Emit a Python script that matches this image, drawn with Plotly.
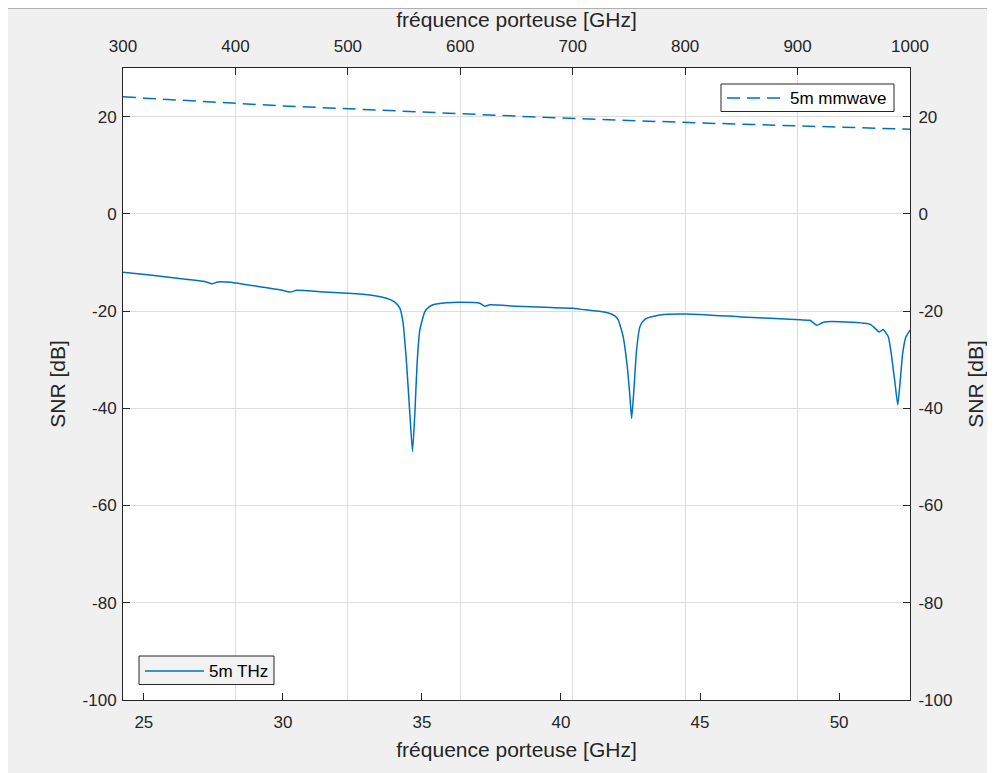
import plotly.graph_objects as go

# ---- data ----
thz_freq = [300, 324, 350, 372.6, 379, 384.4, 400, 425, 439.4, 449, 454.6, 475, 500,
            519.5, 530, 537.3, 542, 546.2, 549.1, 552.2, 555.1, 557.5, 559.6, 561.6, 564.0, 568.5,
            572, 575.8, 587.8, 599.6, 617.4, 621.9, 626.3, 650, 675, 700.1, 706.4, 725, 733.1,
            737.5, 740.5, 744.9, 748.5, 750.9, 752.4, 754.4, 756.8, 759.8, 762.5, 765.7, 777.6, 801.3,
            850, 902.1, 911, 917, 922, 925.9, 937.7, 964.4, 967.3, 972.7, 976.2, 980.7,
            983.7, 986.7, 989.1, 991.1, 993.5, 996.4, 1000]
thz_snr = [-12.0, -12.6, -13.3, -13.9, -14.4, -14.0, -14.2, -15.1, -15.6, -16.1, -15.7, -16.0, -16.35,
           -16.7, -17.1, -17.6, -18.2, -19.4, -22.4, -30.7, -41.0, -48.9, -41.0, -30.7, -23.9, -20.1,
           -19.2, -18.7, -18.3, -18.2, -18.4, -19.0, -18.7, -19.0, -19.2, -19.4, -19.6, -20.1, -20.5,
           -21.0, -21.8, -25.3, -31.4, -37.6, -42.1, -36.2, -28.0, -23.2, -22.1, -21.5, -20.8, -20.6,
           -21.2, -21.8, -21.9, -22.9, -22.4, -22.2, -22.2, -22.7, -23.2, -24.3, -23.8, -25.3,
           -29.4, -34.9, -39.3, -34.9, -28.7, -25.3, -23.9]

mm_freq = [24.25, 25, 30, 35, 40, 45, 50, 52.55]
mm_snr = [24.1, 23.8, 22.2, 20.9, 19.7, 18.7, 17.8, 17.4]

bottom_ticks = [25, 30, 35, 40, 45, 50]
top_ticks = [300, 400, 500, 600, 700, 800, 900, 1000]
y_ticks = [-100, -80, -60, -40, -20, 0, 20]
y_tick_labels = ["-100", "-80", "-60", "-40", "-20", "0", "20"]

x_label = "fréquence porteuse [GHz]"
y_label = "SNR [dB]"
thz_name = "5m THz"
mm_name = "5m mmwave"

# ---- style ----
BLUE = "#0072BD"
DARK = "#262626"
GRID = "#dedede"
FONT = "Liberation Sans, Arial, sans-serif"
OFF = 8  # page body margin of the browser
W, H = 995 - OFF, 773 - OFF
# plot area in reference pixels: x 123..910, y 68..700
L, R, T, B = 123 - OFF, 995 - 910, 68 - OFF, 773 - 700
PW, PH = W - L - R, H - T - B


def px(x):
    return (x - OFF - L) / PW


def py(y):
    return (H - B - (y - OFF)) / PH


fig = go.Figure()
fig.add_trace(go.Scatter(x=mm_freq, y=mm_snr, mode="lines", name=mm_name,
                         xaxis="x", yaxis="y", line=dict(color=BLUE, width=1.5, dash="13px,7px"),
                         showlegend=False))
fig.add_trace(go.Scatter(x=thz_freq, y=thz_snr, mode="lines", name=thz_name,
                         xaxis="x2", yaxis="y2",
                         line=dict(color=BLUE, width=1.5, shape="spline", smoothing=0.5),
                         showlegend=False))

axis_common = dict(showline=True, linecolor=DARK, linewidth=1, ticks="inside", ticklen=7,
                   tickcolor=DARK, tickwidth=1, tickfont=dict(family=FONT, size=17, color=DARK),
                   zeroline=False, automargin=False)
title_font = dict(family=FONT, size=21, color=DARK)

fig.update_layout(
    width=W, height=H,
    margin=dict(l=L, r=R, t=T, b=B, autoexpand=False),
    paper_bgcolor="#f0f0f0",
    plot_bgcolor="white",
    font=dict(family=FONT, color=DARK),
    xaxis=dict(range=[24.25, 52.55], tickvals=bottom_ticks, showgrid=False, side="bottom", anchor="y",
               ticklabelstandoff=7,
               title=dict(text=x_label, font=title_font, standoff=10),
               **axis_common),
    xaxis2=dict(range=[300, 1000], tickvals=top_ticks, overlaying="x", side="top", anchor="y2",
                showgrid=True, gridcolor=GRID, gridwidth=1, ticklabelstandoff=8,
                title=dict(text=x_label, font=title_font, standoff=7),
                **axis_common),
    yaxis=dict(range=[-100, 30], tickvals=y_ticks, ticktext=y_tick_labels, showgrid=True,
               gridcolor=GRID, gridwidth=1, side="left", anchor="x", ticklabelstandoff=2,
               title=dict(text=y_label, font=title_font, standoff=11),
               **axis_common),
    yaxis2=dict(range=[-100, 30], tickvals=y_ticks, ticktext=y_tick_labels, overlaying="y",
                side="right", anchor="x2", showgrid=False, ticklabelstandoff=4,
                title=dict(text=y_label, font=title_font, standoff=16),
                **axis_common),
)

shapes = []
annotations = []
# window edge line at the very top
shapes.append(dict(type="line", xref="paper", yref="paper", x0=px(OFF), x1=px(995), y0=py(8.5), y1=py(8.5),
                   line=dict(color="#b0b0b0", width=1), layer="above"))

# legend: mmwave (top right)
shapes.append(dict(type="rect", xref="paper", yref="paper", x0=px(721), x1=px(894), y0=py(111.5), y1=py(84),
                   fillcolor="white", line=dict(color=DARK, width=1), layer="above"))
shapes.append(dict(type="line", xref="paper", yref="paper", x0=px(727), x1=px(785), y0=py(98), y1=py(98),
                   line=dict(color=BLUE, width=1.5, dash="13px,7px"), layer="above"))
annotations.append(dict(text=mm_name, xref="paper", yref="paper", x=px(788), y=py(98),
                        xanchor="left", yanchor="middle", showarrow=False,
                        font=dict(family=FONT, size=17, color="black")))
# legend: THz (bottom left)
shapes.append(dict(type="rect", xref="paper", yref="paper", x0=px(139), x1=px(274), y0=py(684.5), y1=py(656),
                   fillcolor="#f2f2f2", line=dict(color=DARK, width=1), layer="above"))
shapes.append(dict(type="line", xref="paper", yref="paper", x0=px(145), x1=px(204), y0=py(671), y1=py(671),
                   line=dict(color=BLUE, width=1.5), layer="above"))
annotations.append(dict(text=thz_name, xref="paper", yref="paper", x=px(207), y=py(671),
                        xanchor="left", yanchor="middle", showarrow=False,
                        font=dict(family=FONT, size=17, color="black")))

fig.update_layout(shapes=shapes, annotations=annotations)
fig.write_html("out.html")
